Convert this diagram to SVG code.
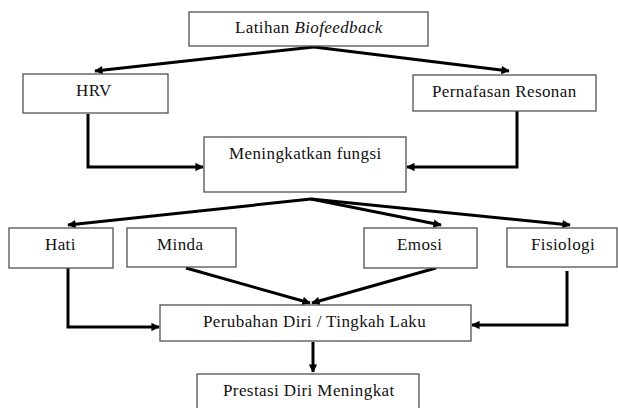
<svg xmlns="http://www.w3.org/2000/svg" width="618" height="408" viewBox="0 0 618 408">
<style>
.box{fill:#fff;stroke:#505050;stroke-width:1.3}
.t{font-family:'Liberation Serif','Times New Roman','DejaVu Serif',serif;font-size:17px;letter-spacing:0.4px;fill:#111}
.c{fill:none;stroke:#000;stroke-width:3;marker-end:url(#ah)}
</style>
<defs>
<marker id="ah" viewBox="0 0 10 10" refX="9" refY="5" markerWidth="3" markerHeight="2.8" orient="auto" markerUnits="strokeWidth">
<path d="M0,0 L10,5 L0,10 z" fill="#000"/>
</marker>
</defs>
<rect width="618" height="408" fill="#fff"/>
<g id="connectors">
<path class="c" d="M314,47 L95,71"/>
<path class="c" d="M314,47 L509,71"/>
<path class="c" d="M88,114 L88,167 L203,167"/>
<path class="c" d="M517,111 L517,167 L407,167"/>
<path class="c" d="M311,199 L68,225"/>
<path class="c" d="M311,199 L441,225"/>
<path class="c" d="M311,199 L570,225"/>
<path class="c" d="M186,268 L310,303"/>
<path class="c" d="M436,268 L312,303"/>
<path class="c" d="M68,268 L68,327 L159,327"/>
<path class="c" d="M567,271 L567,325 L472,325"/>
<path class="c" d="M313,342 L313,372"/>
</g>
<g id="n-latihan"><rect class="box" x="189" y="12" width="239" height="34"/><text class="t" x="235" y="33">Latihan <tspan font-style="italic">Biofeedback</tspan></text></g>
<g id="n-hrv"><rect class="box" x="23" y="74" width="145" height="39"/><text class="t" x="76" y="96">HRV</text></g>
<g id="n-pernafasan"><rect class="box" x="413" y="75" width="183" height="36"/><text class="t" x="432" y="97">Pernafasan Resonan</text></g>
<g id="n-meningkatkan"><rect class="box" x="204" y="137" width="202" height="55"/><text class="t" x="229" y="159">Meningkatkan fungsi</text></g>
<g id="n-hati"><rect class="box" x="9" y="228" width="104" height="40"/><text class="t" x="45" y="250">Hati</text></g>
<g id="n-minda"><rect class="box" x="127" y="228" width="109" height="39"/><text class="t" x="157" y="250">Minda</text></g>
<g id="n-emosi"><rect class="box" x="364" y="228" width="113" height="40"/><text class="t" x="397" y="250">Emosi</text></g>
<g id="n-fisiologi"><rect class="box" x="507" y="228" width="110" height="39"/><text class="t" x="531" y="250">Fisiologi</text></g>
<g id="n-perubahan"><rect class="box" x="160" y="305" width="311" height="36"/><text class="t" x="203" y="327">Perubahan Diri / Tingkah Laku</text></g>
<g id="n-prestasi"><rect class="box" x="197" y="374" width="222" height="40"/><text class="t" x="223" y="396">Prestasi Diri Meningkat</text></g>
</svg>
